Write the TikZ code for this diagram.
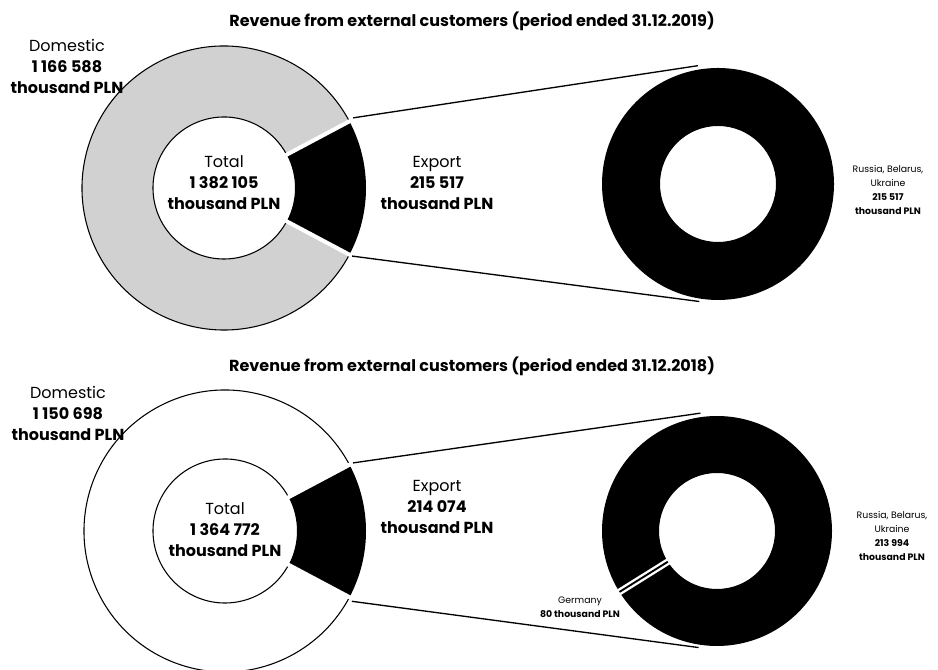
\documentclass[tikz,border=0pt]{standalone}
\usepackage{fontspec}
\setmainfont{Poppins}
\usetikzlibrary{calc}

\begin{document}
\begin{tikzpicture}[x=0.75pt, y=0.75pt,
    title/.style={font=\bfseries\fontsize{12}{14}\selectfont},
    seglabel/.style={align=center, font=\fontsize{12}{15.75}\selectfont},
    countrylabel/.style={align=center, font=\fontsize{7}{10.5}\selectfont},
    ring/.style={draw=black, line width=0.8pt},
    gap/.style={draw=white, line width=3pt},
    line/.style={draw, line width=1pt}]

    \useasboundingbox (0,0) rectangle (938,670);

    % Top: period ended 31.12.2019
    \node [title] (title19) at (472,649) {Revenue from external customers (period ended 31.12.2019)};
    \coordinate (ring19) at (718,486);
    \filldraw [ring, fill=black!18] ($(224,482)+(28:142)$) arc[start angle=28, end angle=332, radius=142]
        -- ($(224,482)+(332:71)$) arc[start angle=332, end angle=28, radius=71] -- cycle;
    \fill ($(224,482)+(-28:142)$) arc[start angle=-28, end angle=28, radius=142]
        -- ($(224,482)+(28:71)$) arc[start angle=28, end angle=-28, radius=71] -- cycle;
    \draw [gap] ($(224,482)+(28:67)$) -- ($(224,482)+(28:147)$);
    \draw [gap] ($(224,482)+(-28:67)$) -- ($(224,482)+(-28:147)$);
    \fill [even odd rule] (ring19) circle[radius=116] (ring19) circle[radius=58];

    \node [seglabel] (tot19) at (224,487) {Total\\\textbf{1 382 105}\\\textbf{thousand PLN}};
    \node [seglabel] (dom19) at (67,604) {Domestic\\\textbf{1 166 588}\\\textbf{thousand PLN}};
    \node [seglabel] (exp19) at (437,487) {Export\\\textbf{215 517}\\\textbf{thousand PLN}};
    \node [countrylabel] (rus19) at (888,480) {Russia, Belarus,\\Ukraine\\\textbf{215 517}\\\textbf{thousand PLN}};

    \coordinate (exp19a) at ($(224,482)+(28.5:147)$);
    \coordinate (exp19b) at ($(224,482)+(-28:145)$);
    \coordinate (rus19a) at ($(ring19)+(99.6:120)$);
    \coordinate (rus19b) at ($(ring19)+(261:119)$);
    \draw [line] (exp19a) -- (rus19a);
    \draw [line] (exp19b) -- (rus19b);

    % Bottom: period ended 31.12.2018
    \node [title] (title18) at (472,304) {Revenue from external customers (period ended 31.12.2018)};
    \coordinate (ring18) at (717,139);
    \draw [ring] ($(225,139)+(28:141)$) arc[start angle=28, end angle=332, radius=141]
        -- ($(225,139)+(332:72)$) arc[start angle=332, end angle=28, radius=72] -- cycle;
    \fill ($(225,139)+(-28:141)$) arc[start angle=-28, end angle=28, radius=141]
        -- ($(225,139)+(28:72)$) arc[start angle=28, end angle=-28, radius=72] -- cycle;
    \draw [gap] ($(225,139)+(28:68)$) -- ($(225,139)+(28:146)$);
    \draw [gap] ($(225,139)+(-28:68)$) -- ($(225,139)+(-28:146)$);
    \fill [even odd rule] (ring18) circle[radius=115] (ring18) circle[radius=58];
    \draw [draw=white, line width=5pt] ($(ring18)+(212:54)$) -- ($(ring18)+(212:119)$);
    \draw [line width=1.4pt] ($(ring18)+(212:58)$) -- ($(ring18)+(212:115)$);

    \node [seglabel] (tot18) at (225,140) {Total\\\textbf{1 364 772}\\\textbf{thousand PLN}};
    \node [seglabel] (dom18) at (68,257) {Domestic\\\textbf{1 150 698}\\\textbf{thousand PLN}};
    \node [seglabel] (exp18) at (437,163) {Export\\\textbf{214 074}\\\textbf{thousand PLN}};
    \node [countrylabel] (rus18) at (892,134) {Russia, Belarus,\\Ukraine\\\textbf{213 994}\\\textbf{thousand PLN}};
    \node [countrylabel] (ger18) at (580,63) {Germany\\\textbf{80 thousand PLN}};

    \coordinate (exp18a) at ($(225,139)+(28:145)$);
    \coordinate (exp18b) at ($(225,139)+(-29:145)$);
    \coordinate (rus18a) at ($(ring18)+(98:119)$);
    \coordinate (rus18b) at ($(ring18)+(261:118)$);
    \draw [line] (exp18a) -- (rus18a);
    \draw [line] (exp18b) -- (rus18b);
\end{tikzpicture}
\end{document}
